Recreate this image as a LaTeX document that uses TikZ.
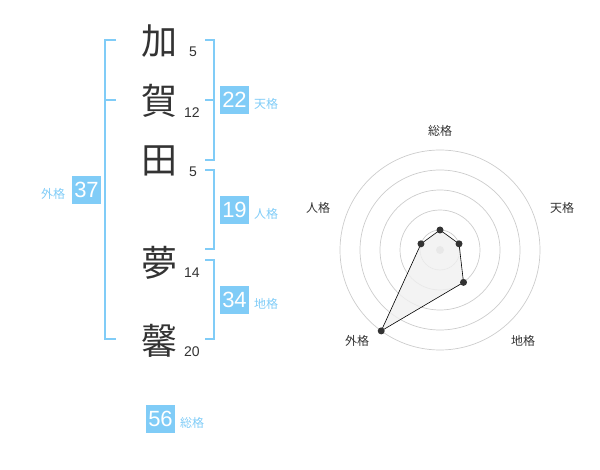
\documentclass[tikz,border=0pt]{standalone}
\usepackage{fontspec}
\setmainfont{Liberation Sans}
\newfontfamily\cjk{Noto Sans CJK JP}
\usetikzlibrary{calc}
\definecolor{sky}{HTML}{80CCF7}
\definecolor{ink}{HTML}{333333}
\definecolor{ring}{HTML}{CCCCCC}
\tikzset{
  kanji/.style={font=\cjk\fontsize{36}{36}\selectfont, text=ink, inner sep=0pt},
  strokes/.style={font=\fontsize{14}{14}\selectfont, text=ink, inner sep=0pt},
  numbox/.style={fill=sky, text=white, minimum width=29pt, minimum height=28pt, inner sep=0pt, font=\fontsize{22}{22}\selectfont},
  kaku/.style={text=sky, font=\cjk\fontsize{12}{12}\selectfont, inner sep=0pt},
  bracket/.style={draw=sky, line width=2pt},
  axislabel/.style={text=ink, font=\cjk\fontsize{12}{12}\selectfont, inner sep=0pt},
  ringline/.style={draw=ring, line width=0.7pt},
  dot/.style={circle, fill=ink, minimum size=7pt, inner sep=0pt},
}
\begin{document}
\begin{tikzpicture}[x=1pt,y=-1pt]
\useasboundingbox (0,0) rectangle (600,470);
% kanji
\node[kanji] (k1) at (159,41) {加};
\node[kanji] (k2) at (159,101) {賀};
\node[kanji] (k3) at (159,161) {田};
\node[kanji] (k4) at (159,263) {夢};
\node[kanji] (k5) at (159,341) {馨};
% stroke counts
\node[strokes] (s1) at (193,52) {5};
\node[strokes] (s2) at (192,113) {12};
\node[strokes] (s3) at (193,172) {5};
\node[strokes] (s4) at (192,273) {14};
\node[strokes] (s5) at (192,352) {20};
% left bracket (gaikaku)
\coordinate (L1) at (116,40);
\coordinate (L2) at (105,40);
\coordinate (L3) at (105,339);
\coordinate (L4) at (116,339);
\coordinate (Lm) at (105,100);
\coordinate (Lm2) at (116,100);
\draw[bracket] (L1) -- (L2) -- (L3) -- (L4);
\draw[bracket] (Lm) -- (Lm2);
% right brackets
\coordinate (A1) at (205,40);
\coordinate (A2) at (214,40);
\coordinate (A3) at (214,160);
\coordinate (A4) at (205,160);
\coordinate (Am) at (205,100);
\coordinate (Am2) at (214,100);
\draw[bracket] (A1) -- (A2) -- (A3) -- (A4);
\draw[bracket] (Am) -- (Am2);
\coordinate (B1) at (205,170);
\coordinate (B2) at (214,170);
\coordinate (B3) at (214,249);
\coordinate (B4) at (205,249);
\draw[bracket] (B1) -- (B2) -- (B3) -- (B4);
\coordinate (C1) at (205,260);
\coordinate (C2) at (214,260);
\coordinate (C3) at (214,339);
\coordinate (C4) at (205,339);
\draw[bracket] (C1) -- (C2) -- (C3) -- (C4);
% boxes
\node[numbox] (ten) at (234.5,100) {22};
\node[kaku] (tenl) at (266,104) {天格};
\node[numbox] (jin) at (234.5,210) {19};
\node[kaku] (jinl) at (266,214) {人格};
\node[numbox] (chi) at (234.5,300) {34};
\node[kaku] (chil) at (266,304) {地格};
\node[numbox] (gai) at (86.5,190) {37};
\node[kaku] (gail) at (53,194) {外格};
\node[numbox] (sou) at (160.5,419) {56};
\node[kaku] (soul) at (192,423) {総格};
% radar
\coordinate (c) at (440,250);
\foreach \r in {20,40,60,80,100} \draw[ringline] (c) circle (\r);
\node[circle, fill=ring, minimum size=8pt, inner sep=0pt] (cd) at (c) {};
\coordinate (p1) at ($(c)+(-90:20)$);
\coordinate (p2) at ($(c)+(-18:20)$);
\coordinate (p3) at ($(c)+(54:40)$);
\coordinate (p4) at ($(c)+(126:100)$);
\coordinate (p5) at ($(c)+(198:20)$);
\filldraw[fill=black!6, fill opacity=0.8, draw=black, line width=0.6pt] (p1) -- (p2) -- (p3) -- (p4) -- (p5) -- cycle;
\foreach \p in {p1,p2,p3,p4,p5} \node[dot] at (\p) {};
\node[axislabel] (a1) at (440,131) {総格};
\node[axislabel] (a2) at (562,208) {天格};
\node[axislabel] (a3) at (523,341) {地格};
\node[axislabel] (a4) at (357,341) {外格};
\node[axislabel] (a5) at (318,208) {人格};
\end{tikzpicture}
\end{document}
